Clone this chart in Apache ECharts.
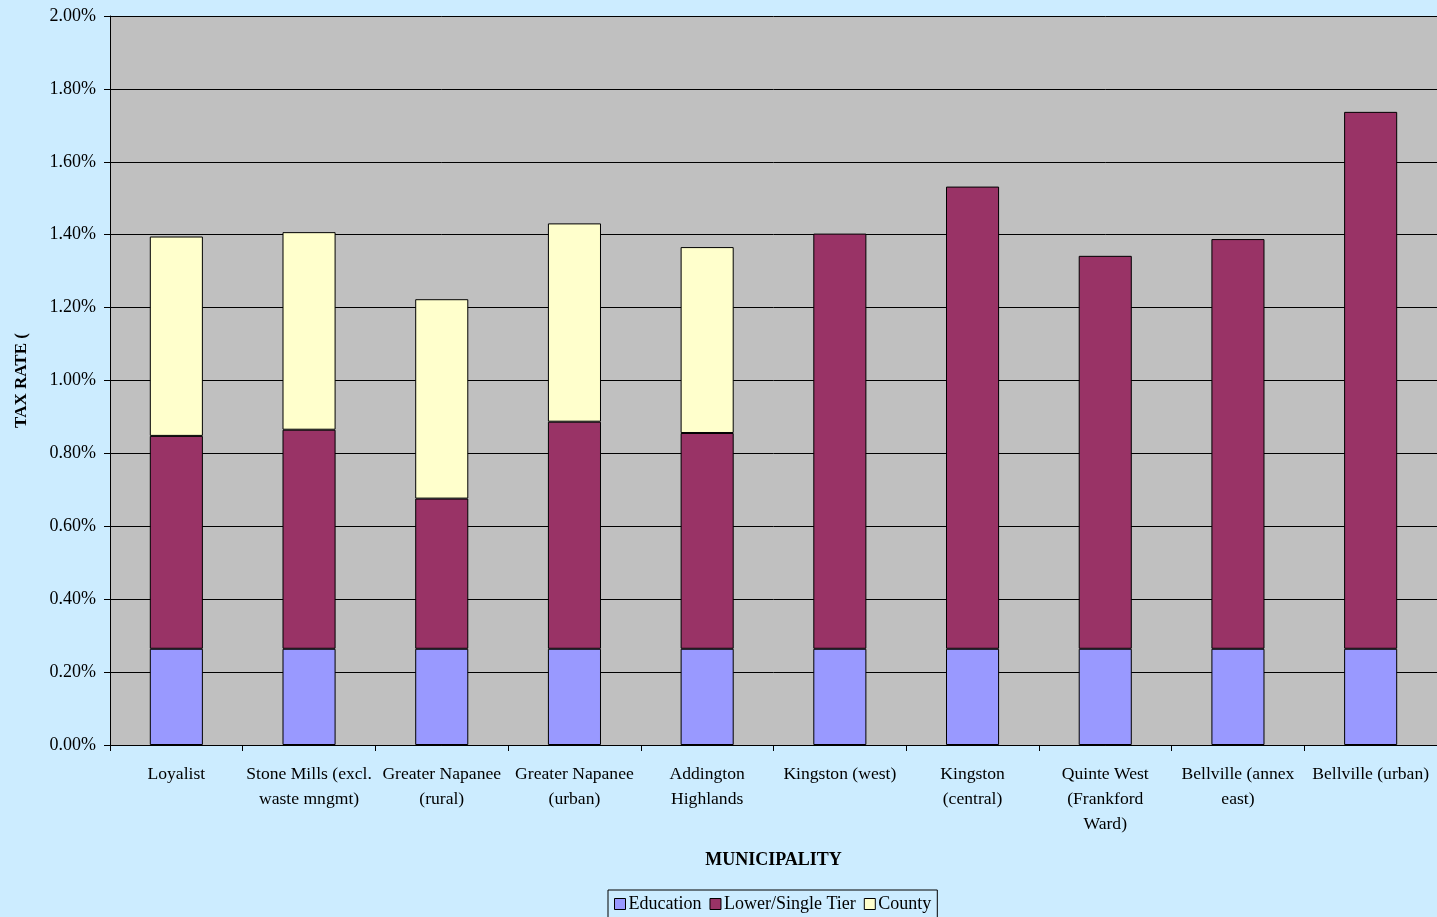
<!DOCTYPE html>
<html>
<head>
<meta charset="utf-8">
<script src="https://cdn.jsdelivr.net/npm/echarts@6/dist/echarts.min.js"></script>
<style>
  html, body { margin: 0; padding: 0; background: #CCECFF; }
  #chart { width: 1437px; height: 917px; }
</style>
</head>
<body>
<div id="chart"></div>
<script>
// Municipal tax rate components (percent)
const municipalities = [
  'Loyalist',
  'Stone Mills (excl.\nwaste mngmt)',
  'Greater Napanee\n(rural)',
  'Greater Napanee\n(urban)',
  'Addington\nHighlands',
  'Kingston (west)',
  'Kingston\n(central)',
  'Quinte West\n(Frankford\nWard)',
  'Bellville (annex\neast)',
  'Bellville (urban)'
];
const education = [0.264, 0.264, 0.264, 0.264, 0.264, 0.264, 0.264, 0.264, 0.264, 0.264];
const lowerSingleTier = [0.584, 0.601, 0.412, 0.623, 0.592, 1.139, 1.268, 1.078, 1.124, 1.473];
const county = [0.547, 0.542, 0.547, 0.544, 0.510, null, null, null, null, null];

const serif = '"Liberation Serif", "DejaVu Serif", serif';
const chart = echarts.init(document.getElementById('chart'));

function stack(name, data, color) {
  return {
    name: name,
    type: 'bar',
    stack: 'rate',
    data: data,
    barWidth: '40%',
    itemStyle: { color: color, borderColor: '#000', borderWidth: 1 }
  };
}

chart.setOption({
  backgroundColor: '#CCECFF',
  animation: false,
  textStyle: { fontFamily: serif },
  grid: {
    left: 110, right: 0, top: 16, bottom: 172,
    show: true, backgroundColor: '#C0C0C0', borderWidth: 0
  },
  xAxis: {
    type: 'category',
    data: municipalities,
    name: 'MUNICIPALITY',
    nameLocation: 'middle',
    nameGap: 106,
    nameTextStyle: { fontFamily: serif, fontSize: 18, fontWeight: 'bold', color: '#000' },
    axisLine: { lineStyle: { color: '#000', width: 1 } },
    axisTick: { show: true, length: 6, lineStyle: { color: '#000' }, alignWithLabel: false },
    axisLabel: { fontFamily: serif, fontSize: 17.6, color: '#000', lineHeight: 25, margin: 17, interval: 0 }
  },
  yAxis: {
    type: 'value',
    min: 0, max: 2, interval: 0.2,
    name: 'TAX RATE (',
    nameLocation: 'middle',
    nameGap: 80,
    nameRotate: 90,
    nameTextStyle: { fontFamily: serif, fontSize: 17, fontWeight: 'bold', color: '#000' },
    axisLine: { show: true, lineStyle: { color: '#000' } },
    axisTick: { show: true, length: 6, lineStyle: { color: '#000' } },
    axisLabel: {
      fontFamily: serif, fontSize: 18, color: '#000', margin: 14,
      formatter: v => v.toFixed(2) + '%'
    },
    splitLine: { show: true, lineStyle: { color: '#000', width: 1 } }
  },
  legend: {
    bottom: -1,
    left: 608,
    icon: 'rect',
    itemWidth: 11, itemHeight: 11, itemGap: 8,
    borderColor: '#000', borderWidth: 1,
    padding: [5, 6, 5, 6],
    textStyle: { fontFamily: serif, fontSize: 18, color: '#000', padding: [0, 0, 0, -2] },
    data: [
      { name: 'Education', itemStyle: { borderColor: '#000', borderWidth: 1 } },
      { name: 'Lower/Single Tier', itemStyle: { borderColor: '#000', borderWidth: 1 } },
      { name: 'County', itemStyle: { borderColor: '#000', borderWidth: 1 } }
    ]
  },
  series: [
    stack('Education', education, '#9999FF'),
    stack('Lower/Single Tier', lowerSingleTier, '#993366'),
    stack('County', county, '#FFFFCC')
  ]
});
</script>
</body>
</html>
